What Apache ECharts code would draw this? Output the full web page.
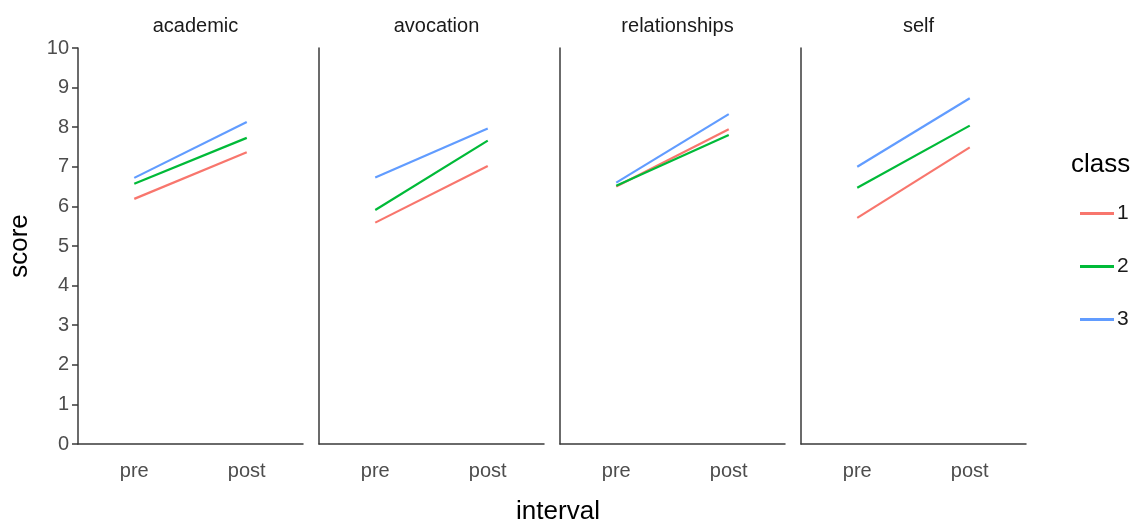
<!DOCTYPE html>
<html>
<head>
<meta charset="utf-8">
<script src="https://cdn.jsdelivr.net/npm/echarts@6/dist/echarts.min.js"></script>
<style>
  html, body { margin: 0; padding: 0; background: #fff; }
  #chart { width: 1134px; height: 523px; }
</style>
</head>
<body>
<div id="chart"></div>
<script>
// facets, x categories and class scores
const facets = ["academic", "avocation", "relationships", "self"];
const intervals = ["pre", "post"];
const classes = ["1", "2", "3"];
const yTicks = [0, 10, 1]; // min, max, step

// one pair per facet: [pre, post]
const class1 = [[6.19, 7.37], [5.59, 7.02], [6.50, 7.95], [5.71, 7.49]];
const class2 = [[6.57, 7.73], [5.91, 7.66], [6.52, 7.80], [6.47, 8.04]];
const class3 = [[6.72, 8.13], [6.73, 7.97], [6.60, 8.33], [7.00, 8.73]];

const COLORS = ["#F8766D", "#00BA38", "#619CFF"];
const FONT = "Liberation Sans, Arial, sans-serif";
const AXIS_LINE = { lineStyle: { color: "#3a3a3a", width: 1.5 } };

const chart = echarts.init(document.getElementById("chart"), null, { renderer: "canvas" });

const PANEL_LEFT = 78, PANEL_STEP = 241, PANEL_W = 225, TOP = 48, H = 396;

const grids = [], xAxes = [], yAxes = [], titles = [], series = [];
facets.forEach((f, i) => {
  const left = PANEL_LEFT + i * PANEL_STEP;
  grids.push({ left: left, top: TOP, width: PANEL_W, height: H, containLabel: false });
  xAxes.push({
    type: "category", gridIndex: i, data: intervals, boundaryGap: true,
    axisLine: AXIS_LINE,
    axisTick: { alignWithLabel: true, length: 6, lineStyle: { color: "#3a3a3a", width: 1.5 } },
    axisLabel: { color: "#4d4d4d", fontSize: 20, fontFamily: FONT, margin: 17 },
  });
  yAxes.push({
    type: "value", gridIndex: i, min: yTicks[0], max: yTicks[1], interval: yTicks[2],
    axisLine: Object.assign({ show: true }, AXIS_LINE),
    axisTick: { show: i === 0, length: 6, lineStyle: { color: "#3a3a3a", width: 1.5 } },
    axisLabel: { show: i === 0, color: "#4d4d4d", fontSize: 20, fontFamily: FONT, margin: 9 },
    splitLine: { show: false },
  });
  titles.push({
    text: f, left: left + PANEL_W / 2, top: 11, textAlign: "center",
    textStyle: { color: "#1a1a1a", fontSize: 20, fontWeight: "normal", fontFamily: FONT },
  });
  [class1, class2, class3].forEach((c, k) => {
    series.push({
      name: classes[k], type: "line", xAxisIndex: i, yAxisIndex: i,
      data: c[i], symbol: "none", silent: true,
      lineStyle: { color: COLORS[k], width: 2.2 }, itemStyle: { color: COLORS[k] },
    });
  });
});

titles.push({
  text: "class", left: 1066, top: 147,
  textStyle: { color: "#000", fontSize: 26, fontWeight: "normal", fontFamily: FONT },
});
titles.push({
  text: "interval", left: 553, top: 494, textAlign: "center",
  textStyle: { color: "#000", fontSize: 26, fontWeight: "normal", fontFamily: FONT },
});

chart.setOption({
  animation: false,
  backgroundColor: "#fff",
  title: titles,
  grid: grids,
  xAxis: xAxes,
  yAxis: yAxes,
  legend: {
    data: classes.map((c, k) => ({ name: c, icon: "rect", itemStyle: { color: COLORS[k] } })),
    orient: "vertical", left: 1075, top: 198,
    itemWidth: 34, itemHeight: 3, itemGap: 32,
    textStyle: { color: "#1a1a1a", fontSize: 21, fontFamily: FONT, padding: [0, 0, 0, -2] },
    selectedMode: false,
  },
  graphic: [{
    type: "text", x: 20, y: 246, rotation: Math.PI / 2,
    style: { text: "score", fill: "#000", fontSize: 26, fontFamily: FONT, align: "center", verticalAlign: "middle" },
  }],
  series: series,
});
</script>
</body>
</html>
